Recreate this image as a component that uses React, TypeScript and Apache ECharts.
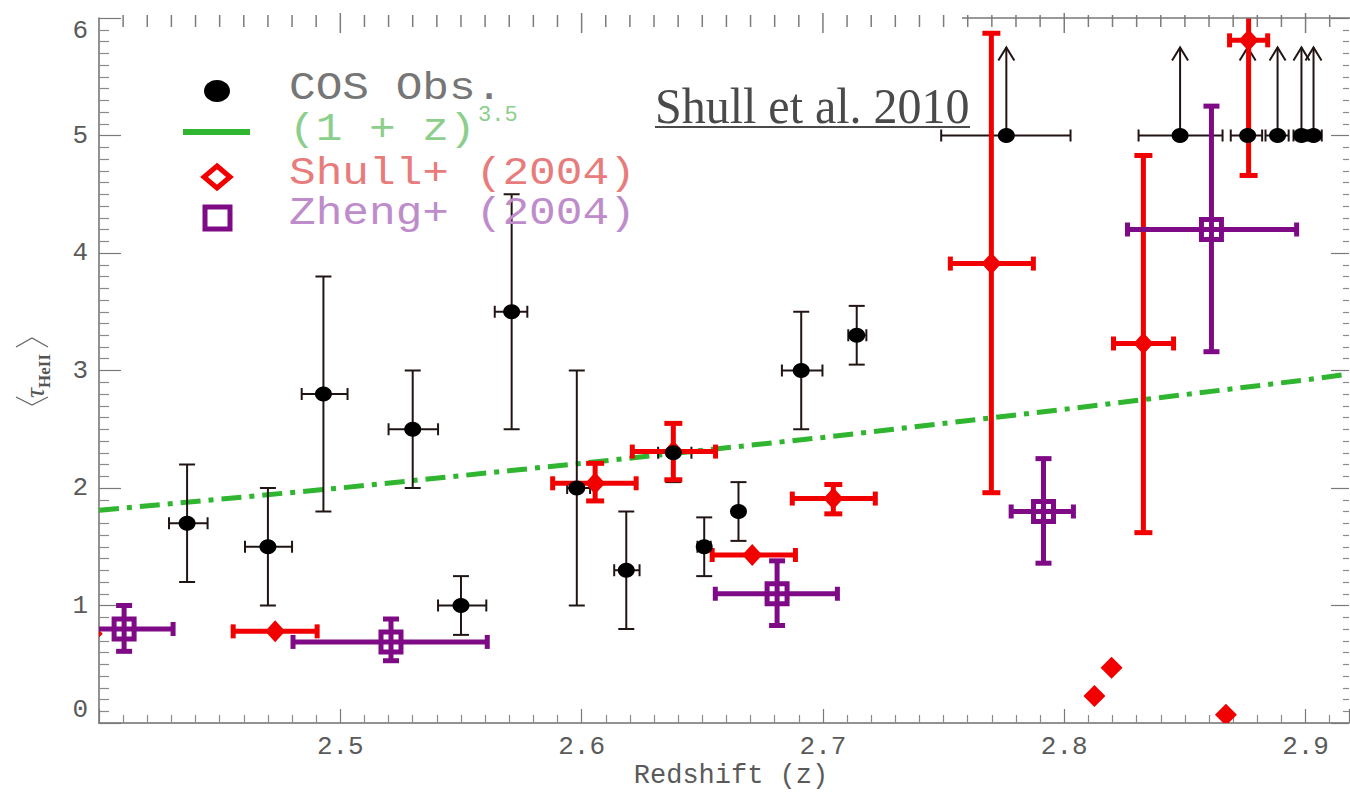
import React, { useEffect, useRef } from "react";
import * as echarts from "echarts";

// ---- COS measurements (redshift, x-range, tau, tau-range) ----
const cosZ = [2.4365, 2.47, 2.493, 2.53, 2.55, 2.571, 2.598, 2.6185, 2.638, 2.6508, 2.665, 2.691, 2.714];
const cosZLo = [2.429, 2.4605, 2.484, 2.52, 2.5405, 2.564, 2.594, 2.6135, 2.6317, 2.648, 2.665, 2.683, 2.7105];
const cosZHi = [2.445, 2.48, 2.503, 2.5405, 2.5605, 2.5775, 2.6035, 2.624, 2.6455, 2.6535, 2.665, 2.6998, 2.718];
const cosTau = [1.7, 1.5, 2.8, 2.5, 1.0, 3.5, 2.0, 1.3, 2.3, 1.5, 1.8, 3.0, 3.3];
const cosTauLo = [1.2, 1.0, 1.8, 2.0, 0.75, 2.5, 1.0, 0.8, 2.05, 1.25, 1.55, 2.5, 3.05];
const cosTauHi = [2.2, 2.0, 3.8, 3.0, 1.25, 4.5, 3.0, 1.8, 2.55, 1.75, 2.05, 3.5, 3.55];

// ---- COS lower limits (tau > 5) ----
const limZ = [2.776, 2.848, 2.876, 2.8884, 2.8983, 2.9033];
const limZLo = [2.749, 2.8308, 2.869, 2.8834, 2.895, 2.9005];
const limZHi = [2.8026, 2.8656, 2.882, 2.893, 2.901, 2.9067];
const limTau = [5, 5, 5, 5, 5, 5];

// ---- Shull+ (2004) ----
const shZ = [2.473, 2.6056, 2.638, 2.6707, 2.7043, 2.7698, 2.8328, 2.8764];
const shZLo = [2.4556, 2.588, 2.621, 2.6541, 2.6873, 2.7528, 2.8204, 2.8685];
const shZHi = [2.4904, 2.6226, 2.6555, 2.6886, 2.7217, 2.7872, 2.8453, 2.8843];
const shTau = [0.78, 2.04, 2.31, 1.43, 1.91, 3.91, 3.23, 5.81];
const shTauLo = [0.78, 1.89, 2.07, 1.43, 1.78, 1.96, 1.62, 4.66];
const shTauHi = [0.78, 2.21, 2.55, 1.43, 2.03, 5.87, 4.83, 7.0];
// Shull+ (2004) points drawn without error bars
const shBareZ = [2.397, 2.8125, 2.8196, 2.867];
const shBareTau = [0.76, 0.23, 0.47, 0.07];

// ---- Zheng+ (2004) ----
const zhZ = [2.4104, 2.521, 2.681, 2.7914, 2.861];
const zhZLo = [2.39, 2.4804, 2.6554, 2.778, 2.8262];
const zhZHi = [2.4307, 2.5609, 2.706, 2.8038, 2.8963];
const zhTau = [0.8, 0.69, 1.1, 1.8, 4.2];
const zhTauLo = [0.61, 0.53, 0.83, 1.36, 3.16];
const zhTauHi = [1.0, 0.885, 1.38, 2.25, 5.25];

// ---- (1 + z)^3.5 scaling curve ----
const modelZ = [2.4, 2.5, 2.6, 2.7, 2.8, 2.9, 2.918];
const modelTau = [1.81, 2.0, 2.21, 2.43, 2.67, 2.92, 2.97];

// axis tick labels
const xTicks = [2.5, 2.6, 2.7, 2.8, 2.9];
const yTicks = [0, 1, 2, 3, 4, 5, 6];
const Y_MAX = 6;

// tick marks along the top frame: every 0.01 in z, long ones at the labelled values
const topTickZ: number[] = [];
for (let k = 241; k <= 291; k++) topTickZ.push(k / 100);

const MONO = "'Liberation Mono', 'DejaVu Sans Mono', monospace";
const SERIF = "'Liberation Serif', 'Times New Roman', serif";

const BLACK = "#231414";
const RED = "#f20000";
const PURPLE = "#7e0a86";
const GREEN = "#2fb52f";

function rows(...cols: number[][]) {
  return cols[0].map((_, i) => cols.map((c) => c[i]));
}

const DIMS = ["z", "zLo", "zHi", "tau", "tauLo", "tauHi"];

type Marker = "none" | "diamond" | "square";

function isMajor(z: number) {
  return xTicks.some((m) => Math.abs(m - z) < 1e-6);
}

function errorBars(color: string, lw: number, vCap: number, hCap: number, marker: Marker) {
  return (_params: any, api: any) => {
    const z = api.value(0);
    const zLo = api.value(1);
    const zHi = api.value(2);
    const t = api.value(3);
    const tLo = api.value(4);
    const tHi = api.value(5);
    const c = api.coord([z, t]);
    const style = { stroke: color, lineWidth: lw, fill: "none" };
    const children: any[] = [];
    const seg = (x1: number, y1: number, x2: number, y2: number) =>
      children.push({ type: "line", shape: { x1, y1, x2, y2 }, style });
    if (tHi > tLo) {
      const top = api.coord([z, tHi])[1];
      const bot = api.coord([z, tLo])[1];
      seg(c[0], top, c[0], bot);
      seg(c[0] - vCap, top, c[0] + vCap, top);
      seg(c[0] - vCap, bot, c[0] + vCap, bot);
    }
    if (zHi > zLo) {
      const l = api.coord([zLo, t])[0];
      const r = api.coord([zHi, t])[0];
      seg(l, c[1], r, c[1]);
      seg(l, c[1] - hCap, l, c[1] + hCap);
      seg(r, c[1] - hCap, r, c[1] + hCap);
    }
    if (marker === "diamond") {
      children.push({
        type: "polygon",
        shape: { points: [[c[0], c[1] - 11], [c[0] + 10, c[1]], [c[0], c[1] + 11], [c[0] - 10, c[1]]] },
        style: { fill: color },
      });
    } else if (marker === "square") {
      children.push({
        type: "rect",
        shape: { x: c[0] - 10, y: c[1] - 10, width: 20, height: 20 },
        style: { stroke: color, lineWidth: 5, fill: "none" },
      });
    }
    return { type: "group", children };
  };
}

// lone diamond markers (clipped to the plot frame like the rest)
function bareDiamond(_params: any, api: any) {
  const c = api.coord([api.value(0), api.value(1)]);
  return {
    type: "polygon",
    shape: { points: [[c[0], c[1] - 11], [c[0] + 11, c[1]], [c[0], c[1] + 11], [c[0] - 11, c[1]]] },
    style: { fill: RED },
  };
}

// lower limits: horizontal range plus an upward open arrow
function limitArrows(_params: any, api: any) {
  const z = api.value(0);
  const zLo = api.value(1);
  const zHi = api.value(2);
  const t = api.value(3);
  const c = api.coord([z, t]);
  const style = { stroke: BLACK, lineWidth: 2, fill: "none" };
  const l = api.coord([zLo, t])[0];
  const r = api.coord([zHi, t])[0];
  const tip = c[1] - 88;
  return {
    type: "group",
    children: [
      { type: "line", shape: { x1: l, y1: c[1], x2: r, y2: c[1] }, style },
      { type: "line", shape: { x1: l, y1: c[1] - 6, x2: l, y2: c[1] + 6 }, style },
      { type: "line", shape: { x1: r, y1: c[1] - 6, x2: r, y2: c[1] + 6 }, style },
      { type: "line", shape: { x1: c[0], y1: c[1], x2: c[0], y2: tip }, style },
      { type: "polyline", shape: { points: [[c[0] - 8, tip + 13], [c[0], tip], [c[0] + 8, tip + 13]] }, style },
    ],
  };
}

function buildOption(): any {
  const axisGray = "#6e6e6e";
  const labelStyle = { fontFamily: MONO, fontSize: 26, color: "#5a5a5a" };

  const legendText = (text: string, y: number, fill: string) => ({
    type: "text",
    x: 289,
    y,
    scaleX: 1.17,
    style: { text, fill, font: `38px ${MONO}`, textAlign: "left", textVerticalAlign: "middle", verticalAlign: "middle" },
    z: 100,
  });

  return {
    animation: false,
    backgroundColor: "#ffffff",
    grid: { left: 99, right: 1, top: 18, bottom: 70 },
    xAxis: {
      type: "value",
      min: 2.4,
      max: 2.918,
      interval: 0.1,
      position: "bottom",
      axisLine: { show: true, onZero: false, lineStyle: { color: axisGray, width: 1.5 } },
      axisTick: { show: true, inside: true, length: 14, lineStyle: { color: "#7a7a7a", width: 1.2 } },
      minorTick: { show: true, splitNumber: 10, length: 8, lineStyle: { color: "#8a8a8a", width: 1.2 } },
      splitLine: { show: false },
      minorSplitLine: { show: false },
      axisLabel: {
        ...labelStyle,
        margin: 11,
        customValues: xTicks,
        formatter: (v: number) => v.toFixed(1),
      },
    },
    yAxis: [
      {
        type: "value",
        min: 0,
        max: Y_MAX,
        interval: 1,
        position: "left",
        axisLine: { show: true, onZero: false, lineStyle: { color: axisGray, width: 1.5 } },
        axisTick: { show: true, inside: true, length: 22, lineStyle: { color: "#7a7a7a", width: 1.2 } },
        minorTick: { show: true, splitNumber: 10, length: 10, lineStyle: { color: "#8a8a8a", width: 1.2 } },
        splitLine: { show: false },
        minorSplitLine: { show: false },
        axisLabel: {
          ...labelStyle,
          margin: 11,
          customValues: yTicks,
          verticalAlignMinLabel: "bottom",
          verticalAlignMaxLabel: "top",
          formatter: (v: number) => String(v),
        },
      },
      {
        type: "value",
        min: 0,
        max: Y_MAX,
        interval: 1,
        position: "right",
        axisLine: { show: false, onZero: false },
        axisTick: { show: true, inside: true, length: 18, lineStyle: { color: "#7a7a7a", width: 1.2 } },
        minorTick: { show: true, splitNumber: 10, length: 6, lineStyle: { color: "#8a8a8a", width: 1.2 } },
        splitLine: { show: false },
        axisLabel: { show: false },
      },
    ],
    graphic: [
      // top frame line (right part)
      {
        type: "line",
        shape: { x1: 962, y1: 18, x2: 1350, y2: 18 },
        style: { stroke: "#777", lineWidth: 1.5 },
        z: 50,
      },
      // y-axis title <tau_HeII>
      {
        type: "group",
        x: 32,
        y: 372,
        rotation: Math.PI / 2,
        z: 100,
        children: [
          {
            type: "polyline",
            shape: { points: [[-25, -16], [-33, 0], [-25, 16]] },
            style: { stroke: "#666", lineWidth: 1.3, fill: "none" },
          },
          {
            type: "text",
            x: -21,
            y: 2,
            style: {
              text: "τ",
              fill: "#555",
              font: `italic 28px ${SERIF}`,
              textAlign: "center",
              textVerticalAlign: "middle",
              verticalAlign: "middle",
            },
          },
          {
            type: "text",
            x: 1,
            y: 12,
            style: {
              text: "HeII",
              fill: "#555",
              font: `bold 17px ${SERIF}`,
              textAlign: "center",
              textVerticalAlign: "middle",
              verticalAlign: "middle",
            },
          },
          {
            type: "polyline",
            shape: { points: [[25, -16], [34, 0], [25, 16]] },
            style: { stroke: "#666", lineWidth: 1.3, fill: "none" },
          },
        ],
      },
      // x-axis title
      {
        type: "text",
        x: 731,
        y: 776,
        z: 100,
        style: {
          text: "Redshift (z)",
          fill: "#5a5a5a",
          font: `27px ${MONO}`,
          textAlign: "center",
          textVerticalAlign: "middle",
          verticalAlign: "middle",
        },
      },
      // citation
      {
        type: "text",
        x: 655,
        y: 106,
        scaleX: 0.96,
        z: 100,
        style: {
          text: "Shull et al. 2010",
          fill: "#4a4a4a",
          font: `50px ${SERIF}`,
          textAlign: "left",
          textVerticalAlign: "middle",
          verticalAlign: "middle",
        },
      },
      {
        type: "line",
        shape: { x1: 655, y1: 127, x2: 970, y2: 127 },
        style: { stroke: "#4a4a4a", lineWidth: 2 },
        z: 100,
      },
      // legend
      { type: "ellipse", shape: { cx: 217, cy: 91, rx: 13, ry: 11 }, style: { fill: "#000" }, z: 100 },
      legendText("COS Obs.", 89, "#767676"),
      {
        type: "line",
        shape: { x1: 183, y1: 132, x2: 250, y2: 132 },
        style: { stroke: GREEN, lineWidth: 6 },
        z: 100,
      },
      legendText("(1 + z)", 130, "#8ccf8c"),
      {
        type: "text",
        x: 478,
        y: 115,
        z: 100,
        style: {
          text: "3.5",
          fill: "#8ccf8c",
          font: `22px ${MONO}`,
          textAlign: "left",
          textVerticalAlign: "middle",
          verticalAlign: "middle",
        },
      },
      {
        type: "polygon",
        shape: { points: [[217, 166], [230, 177], [217, 188], [204, 177]] },
        style: { fill: "none", stroke: RED, lineWidth: 5 },
        z: 100,
      },
      legendText("Shull+ (2004)", 174, "#e87c7c"),
      {
        type: "rect",
        shape: { x: 205, y: 207, width: 25, height: 22 },
        style: { fill: "none", stroke: PURPLE, lineWidth: 5 },
        z: 100,
      },
      legendText("Zheng+ (2004)", 214, "#bf8ccb"),
    ],
    series: [
      {
        // tick marks at the top frame, one thin bar per 0.01 in z
        name: "top ticks",
        type: "scatter",
        clip: false,
        silent: true,
        symbol: "rect",
        symbolSize: (v: number[]) => [1.5, isMajor(v[0]) ? 20 : 12],
        symbolOffset: [0, "25%"],
        itemStyle: { color: "#7c7c7c", opacity: 1 },
        data: topTickZ.map((z) => [z, Y_MAX]),
        z: 6,
      },
      {
        name: "(1 + z)^3.5",
        type: "line",
        data: rows(modelZ, modelTau),
        showSymbol: false,
        symbol: "none",
        lineStyle: { color: GREEN, width: 5, type: [20, 8, 5, 8] },
        z: 1,
      },
      {
        name: "COS Obs. errors",
        type: "custom",
        clip: true,
        dimensions: DIMS,
        encode: { x: [0, 1, 2], y: [3, 4, 5] },
        data: rows(cosZ, cosZLo, cosZHi, cosTau, cosTauLo, cosTauHi),
        renderItem: errorBars(BLACK, 2, 8, 6, "none"),
        z: 2,
      },
      {
        name: "COS lower limits",
        type: "custom",
        clip: true,
        dimensions: ["z", "zLo", "zHi", "tau"],
        encode: { x: [0, 1, 2], y: [3] },
        data: rows(limZ, limZLo, limZHi, limTau),
        renderItem: limitArrows,
        z: 2,
      },
      {
        name: "Shull+ (2004)",
        type: "custom",
        clip: true,
        dimensions: DIMS,
        encode: { x: [0, 1, 2], y: [3, 4, 5] },
        data: rows(shZ, shZLo, shZHi, shTau, shTauLo, shTauHi),
        renderItem: errorBars(RED, 5, 9, 7, "diamond"),
        z: 3,
      },
      {
        name: "Shull+ (2004) points",
        type: "custom",
        clip: true,
        dimensions: ["z", "tau"],
        encode: { x: [0], y: [1] },
        data: rows(shBareZ, shBareTau),
        renderItem: bareDiamond,
        z: 3,
      },
      {
        name: "Zheng+ (2004)",
        type: "custom",
        clip: true,
        dimensions: DIMS,
        encode: { x: [0, 1, 2], y: [3, 4, 5] },
        data: rows(zhZ, zhZLo, zhZHi, zhTau, zhTauLo, zhTauHi),
        renderItem: errorBars(PURPLE, 5, 8, 7, "square"),
        z: 4,
      },
      {
        name: "COS Obs.",
        type: "scatter",
        clip: true,
        symbol: "circle",
        symbolSize: [17, 15],
        itemStyle: { color: "#000", opacity: 1 },
        data: [...rows(cosZ, cosTau), ...rows(limZ, limTau)],
        z: 5,
      },
    ],
  };
}

export default function App() {
  const ref = useRef<HTMLDivElement>(null);
  useEffect(() => {
    if (!ref.current) return;
    const chart = echarts.init(ref.current, undefined, { renderer: "svg" });
    chart.setOption(buildOption());
    return () => chart.dispose();
  }, []);
  return (
    <div
      ref={ref}
      style={{ position: "fixed", left: 0, top: 0, width: 1350, height: 793, background: "#fff" }}
    />
  );
}
